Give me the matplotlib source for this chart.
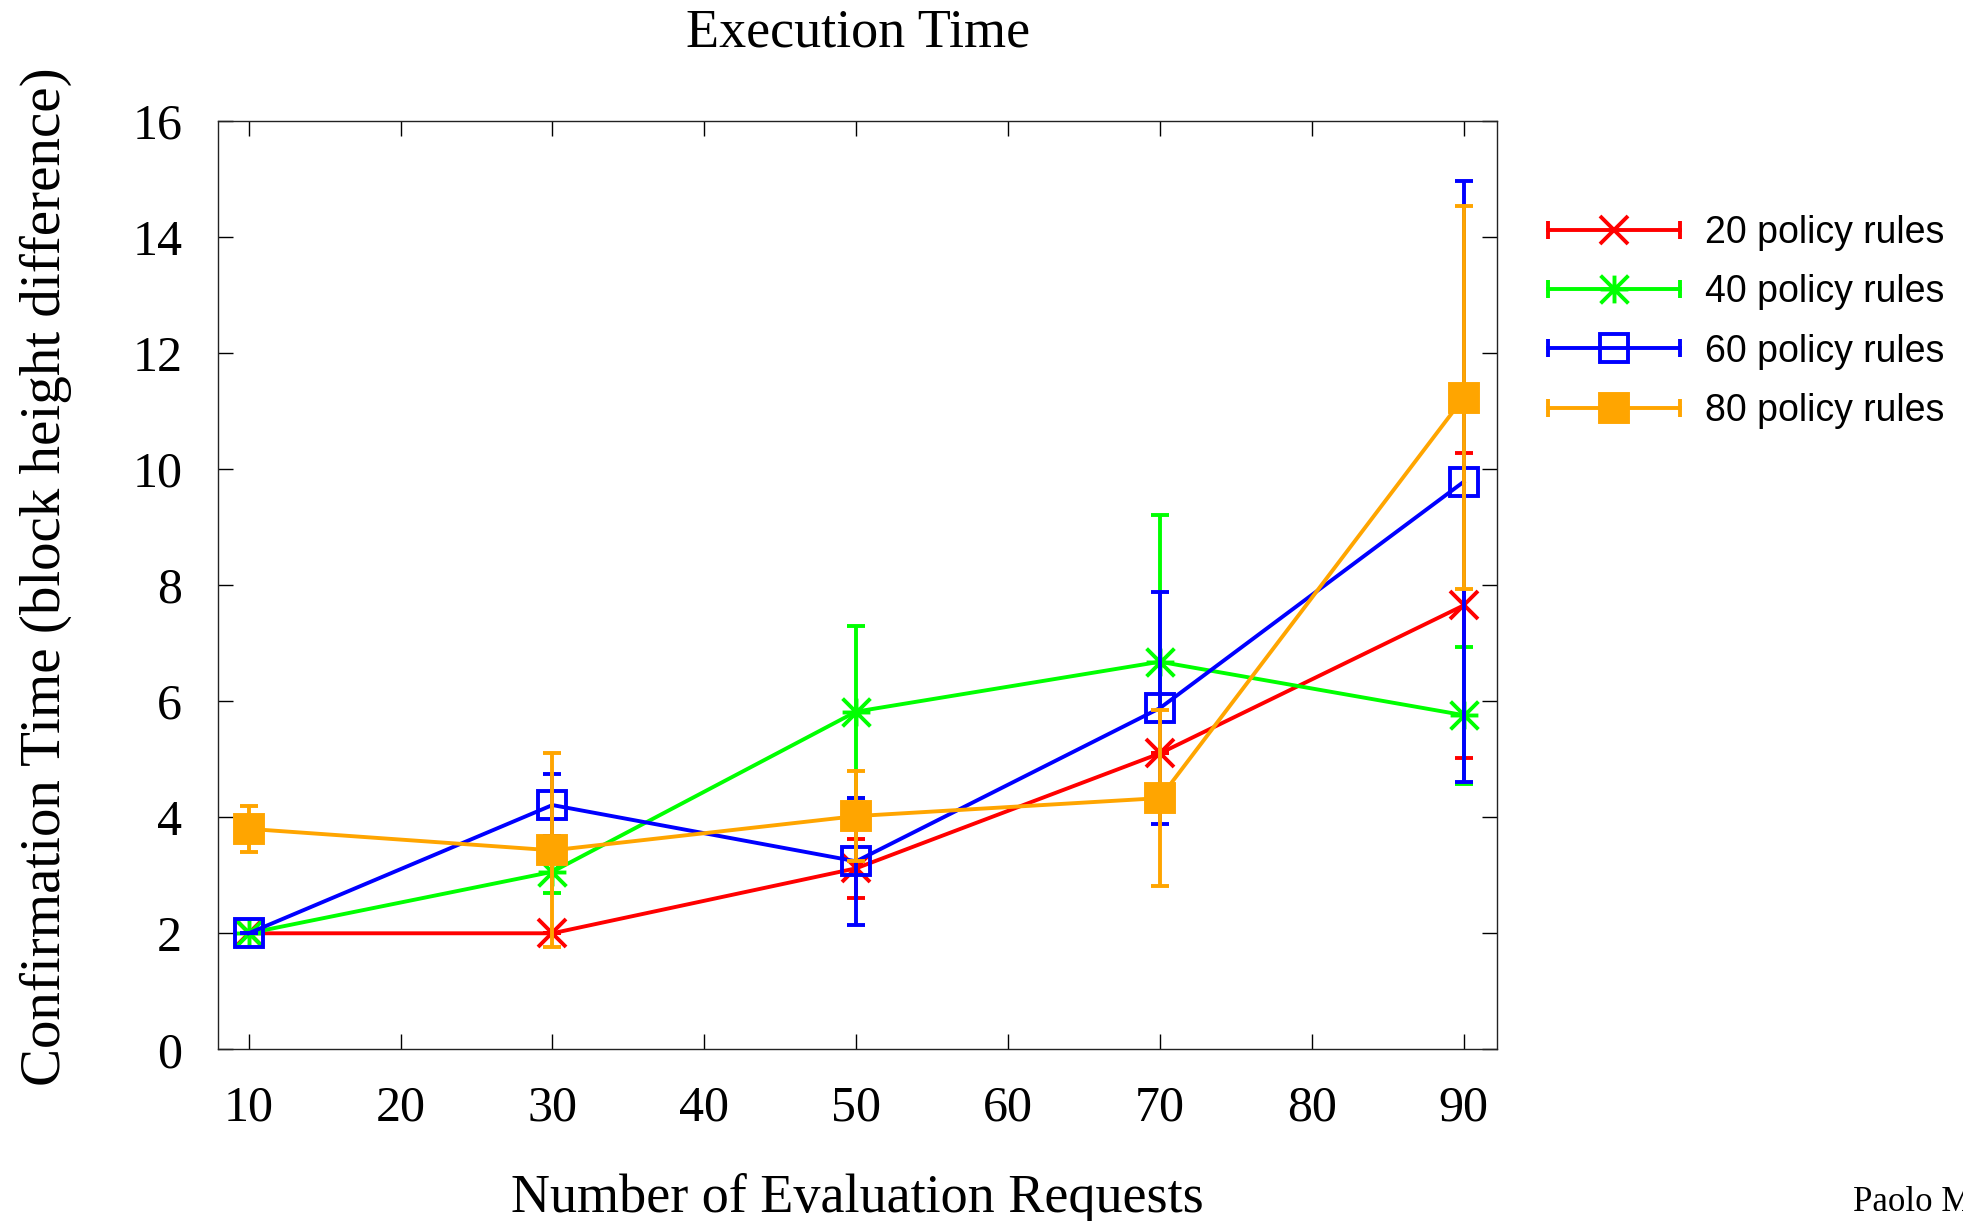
import numpy as np
import matplotlib
matplotlib.use("Agg")
import matplotlib.pyplot as plt
from matplotlib.path import Path
from matplotlib.lines import Line2D
from matplotlib.legend_handler import HandlerBase
from matplotlib.container import ErrorbarContainer

# numero de peticiones de evaluacion
requests = [10, 30, 50, 70, 90]

rules_20 = [2.0, 2.0, 3.12, 5.10, 7.65]
err_20 = [0.0, 0.0, 0.51, 0.0, 2.63]

rules_40 = [2.0, 3.06, 5.82, 6.68, 5.76]
err_40 = [0.0, 0.36, 1.48, 2.53, 1.18]

rules_60 = [2.0, 4.21, 3.24, 5.88, 9.78]
err_60 = [0.0, 0.53, 1.09, 2.0, 5.18]

rules_80 = [3.80, 3.43, 4.02, 4.33, 11.23]
err_80 = [0.40, 1.67, 0.78, 1.52, 3.30]

labels = ['20 policy rules', '40 policy rules', '60 policy rules', '80 policy rules']
colores = ['#ff0000', '#00ff00', '#0000ff', '#ffa500']

# asterisco tipo gnuplot (+ y x superpuestos)
asterisco = Path([(-1, 0), (1, 0), (0, -1), (0, 1), (-1, -1), (1, 1), (-1, 1), (1, -1)],
                 [Path.MOVETO, Path.LINETO] * 4)

LW = 2.8
MS = 20


class HandlerCapas(HandlerBase):
    # linea con topes en los extremos, como en gnuplot
    def create_artists(self, legend, orig_handle, xdescent, ydescent, width, height, fontsize, trans):
        linea_datos = orig_handle.lines[0]
        c = linea_datos.get_color()
        y = height / 2 - ydescent
        x0, x1 = -xdescent, width - xdescent
        linea = Line2D([x0, x1], [y, y], color=c, lw=LW)
        topes = Line2D([x0, x1], [y, y], ls='none', marker='|', ms=13, mew=LW, color=c)
        marca = Line2D([(x0 + x1) / 2], [y], ls='none', marker=linea_datos.get_marker(),
                       ms=MS, mew=LW, color=c, mfc=linea_datos.get_markerfacecolor(), mec=c)
        for a in (linea, topes, marca):
            a.set_transform(trans)
        return [linea, topes, marca]


fig = plt.figure(figsize=(19.63, 12.21), dpi=100)
ax = fig.add_axes([0.1112, 0.1406, 0.6514, 0.7603])

series = [rules_20, rules_40, rules_60, rules_80]
errores = [err_20, err_40, err_60, err_80]
marcadores = ['x', asterisco, 's', 's']
rellenos = ['#ff0000', '#00ff00', 'none', '#ffa500']

handles = []
for i in range(4):
    h = ax.errorbar(requests, series[i], yerr=errores[i], color=colores[i], lw=LW,
                    elinewidth=LW, capsize=6.8, capthick=LW, marker=marcadores[i],
                    ms=MS, mew=LW, mfc=rellenos[i], mec=colores[i], zorder=2 + i,
                    label=labels[i])
    handles.append(h)

ax.set_xlim(8, 92.2)
ax.set_ylim(0, 16)
ax.set_xticks(np.arange(10, 91, 10))
ax.set_yticks(np.arange(0, 17, 2))

serif = 'Liberation Serif'
ax.tick_params(direction='in', length=10.8, width=1.0, top=True, right=True, pad=26,
               labelsize=36)
for lab in ax.get_xticklabels() + ax.get_yticklabels():
    lab.set_fontfamily(serif)
for s in ax.spines.values():
    s.set_linewidth(1.0)
    s.set_color('#222222')

ax.set_title('Execution Time', fontsize=39, family=serif, pad=54)
fig.text(0.4368, 1 - 1212 / 1221, 'Number of Evaluation Requests', fontsize=39,
         family=serif, ha='center', va='baseline')
fig.text(46 / 1963, 0.528, 'Confirmation Time (block height difference)', fontsize=41,
         family=serif, ha='center', va='center', rotation=90)

fig.legend(handles=handles, labels=labels, loc='upper left',
           bbox_to_anchor=(1548 / 1963, 1 - 215 / 1221), frameon=False,
           prop={'family': 'Liberation Sans', 'size': 27}, handlelength=3.52,
           handletextpad=0.67, labelspacing=0.62, borderpad=0, borderaxespad=0,
           handler_map={ErrorbarContainer: HandlerCapas()})

fig.text(1853 / 1963, 1 - 1211 / 1221, 'Paolo M', fontsize=25, family=serif,
         ha='left', va='baseline')

fig.savefig('out.png', dpi=100)
